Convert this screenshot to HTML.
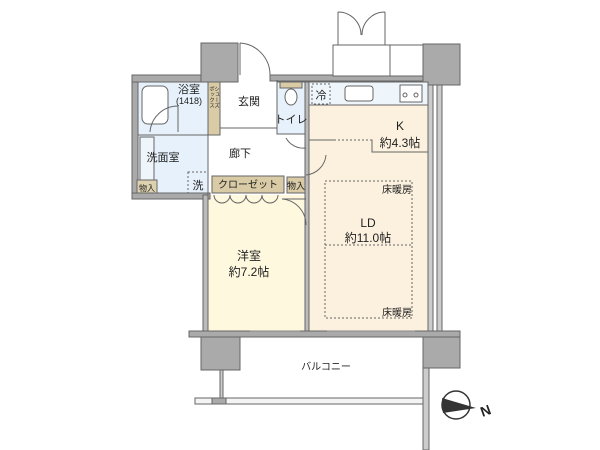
<!DOCTYPE html>
<html><head><meta charset="utf-8"><style>
html,body{margin:0;padding:0;background:#fff;}
svg{display:block;}
text{font-family:"Liberation Sans","Noto Sans CJK JP",sans-serif;fill:#222;}
</style></head><body>
<svg width="600" height="450" viewBox="0 0 600 450" xmlns="http://www.w3.org/2000/svg">
<g stroke="#666" stroke-width="1">
<rect x="308" y="82" width="120" height="249" fill="#fcf1df" stroke="none"/>
<rect x="208" y="195" width="98" height="136" fill="#fdf8de" stroke="none"/>
<rect x="138" y="82" width="70" height="113" fill="#e7f1fb" stroke="none"/>
<rect x="277" y="82" width="28" height="52" fill="#e7f1fb"/>
<rect x="132" y="75" width="6" height="122" fill="#aaa"/>
<rect x="132" y="75" width="70" height="7" fill="#aaa"/>
<rect x="201" y="43" width="37" height="39" fill="#aaa"/>
<rect x="270" y="75" width="155" height="6" fill="#aaa"/>
<rect x="423" y="44" width="37" height="41" fill="#aaa"/>
<rect x="428" y="85" width="5" height="246" fill="#ccc"/>
<rect x="437" y="85" width="5" height="246" fill="#ccc"/>
<rect x="132" y="193" width="78" height="6" fill="#aaa"/>
<rect x="203" y="195" width="5" height="136" fill="#bbb"/>
<rect x="305" y="82" width="4" height="250" fill="#bbb"/>
<rect x="189" y="331" width="271" height="6" fill="#aaa"/>
<rect x="201" y="337" width="39" height="33" fill="#aaa"/>
<rect x="423" y="337" width="37" height="31" fill="#aaa"/>
<rect x="423" y="368" width="6" height="82" fill="#ccc"/>
<rect x="220" y="370" width="3" height="28" fill="#ccc"/>
<rect x="195" y="398" width="228" height="6" fill="#f4f4f4"/>
<rect x="212" y="398" width="14" height="6" fill="#aaa"/>
<rect x="333" y="45" width="57" height="31" fill="#fff"/>
<rect x="390" y="45" width="33" height="31" fill="#fff"/>
<path d="M338 45 V12 M338 12 A23 23 0 0 1 361 35 M385 45 V12 M385 12 A23 23 0 0 0 362 35" fill="none"/>
<path d="M240 43 V75 M240 43 A32 32 0 0 1 270 75" fill="none"/>
<rect x="309" y="82" width="119" height="23" fill="#eef5fb"/>
<rect x="345" y="86" width="28" height="15" rx="3" fill="#fff"/>
<rect x="400" y="85" width="22" height="17" fill="#fff"/>
<circle cx="405" cy="95" r="2" fill="none"/><circle cx="416" cy="95" r="2" fill="none"/>
<rect x="312" y="84" width="18" height="20" fill="none" stroke-dasharray="2,2"/>
<path d="M309 140 H336" fill="none"/>
<path d="M338 140 H370" fill="none" stroke-dasharray="2,2"/>
<path d="M370 140 H372 V152 H428" fill="none"/>
<rect x="325" y="181" width="87" height="137" fill="none" stroke-dasharray="2,2"/>
<path d="M325 245 H412" fill="none" stroke-dasharray="2,2"/>
<path d="M138 135 H208 M208 82 V135" fill="none"/>
<rect x="142" y="86" width="26" height="38" rx="6" fill="#fff"/>
<path d="M150 132 A28 28 0 0 1 178 106 V132" fill="none"/>
<rect x="140" y="137" width="14" height="56" fill="#eef5fb"/>
<rect x="188" y="172" width="20" height="21" fill="none" stroke-dasharray="2,2"/>
<rect x="137" y="180" width="20" height="13" fill="#ddd1b0"/>
<rect x="208" y="82" width="12" height="53" fill="#d9cba5"/>
<path d="M220 128 H277 M277 80 V134 H305" fill="none"/>
<rect x="280" y="82" width="22" height="6" fill="#d9cba5"/>
<ellipse cx="291" cy="97" rx="6" ry="8" fill="#fff"/>
<path d="M208 135 V197" fill="none"/>
<rect x="212" y="176" width="72" height="17" fill="#d9cba5"/>
<rect x="287" y="177" width="18" height="16" fill="#d9cba5"/>
<path d="M214 195 A8 8 0 0 0 230 195 A8 8 0 0 0 246 195 A8 8 0 0 0 262 195 A8 8 0 0 0 278 195" fill="none"/>
<path d="M306 225 A26 26 0 0 0 282 199 H306" fill="none"/>
<path d="M306 148 A20 20 0 0 1 286 138" fill="none"/>
<path d="M306 175 A22 22 0 0 0 326 155" fill="none"/>
<path d="M250 331 H300 M327 331 H415" stroke="#888"/>
</g>
<text x="189" y="93" font-size="11" text-anchor="middle">浴室</text>
<text x="189" y="104" font-size="9" text-anchor="middle">(1418)</text>
<text x="249" y="105" font-size="11" text-anchor="middle">玄関</text>
<text x="291" y="123" font-size="11" text-anchor="middle">トイレ</text>
<text x="321" y="99" font-size="11" text-anchor="middle">冷</text>
<text x="240" y="157" font-size="11" text-anchor="middle">廊下</text>
<text x="163" y="161" font-size="11" text-anchor="middle">洗面室</text>
<text x="198" y="189" font-size="11" text-anchor="middle">洗</text>
<text x="147" y="191" font-size="8" text-anchor="middle">物入</text>
<text x="248" y="188" font-size="10" text-anchor="middle">クローゼット</text>
<text x="296" y="189" font-size="9" text-anchor="middle">物入</text>
<text x="216" y="86" font-size="5.5" writing-mode="tb">シューズ</text>
<text x="211" y="86" font-size="5.5" writing-mode="tb">ボックス</text>
<text x="400" y="130" font-size="12" text-anchor="middle">K</text>
<text x="400" y="147" font-size="12" text-anchor="middle">約4.3帖</text>
<text x="397" y="193" font-size="10" text-anchor="middle">床暖房</text>
<text x="368" y="227" font-size="12" text-anchor="middle">LD</text>
<text x="368" y="242" font-size="12" text-anchor="middle">約11.0帖</text>
<text x="397" y="316" font-size="10" text-anchor="middle">床暖房</text>
<text x="249" y="260" font-size="12" text-anchor="middle">洋室</text>
<text x="249" y="276" font-size="12" text-anchor="middle">約7.2帖</text>
<text x="326" y="370" font-size="10" text-anchor="middle">バルコニー</text>
<circle cx="456" cy="405" r="14" fill="#fff" stroke="#333" stroke-width="1.5"/>
<polygon points="442,398 476,408 443,413" fill="#333"/>
<text x="480" y="415" font-size="14" font-weight="bold" transform="rotate(-20 487 409)">N</text>
</svg>
</body></html>
